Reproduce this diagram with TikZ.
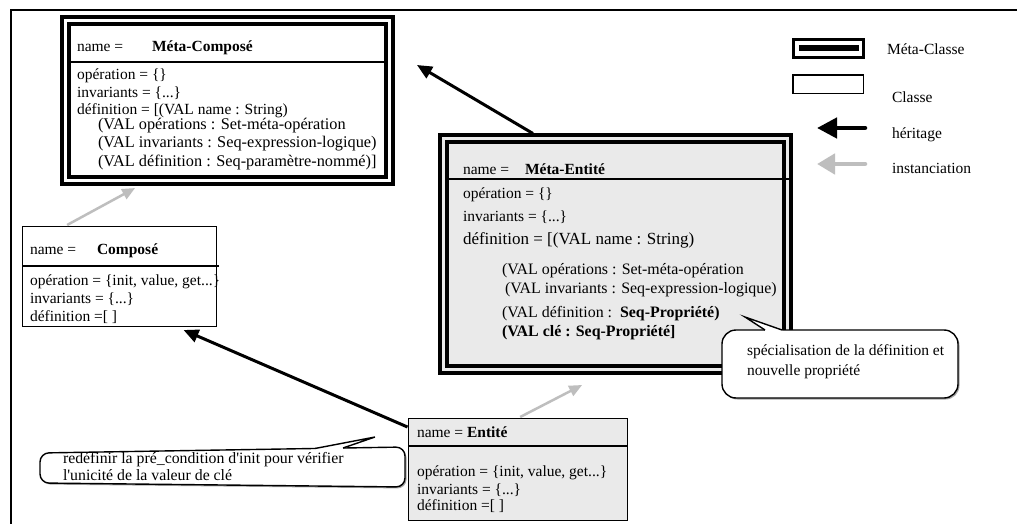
\documentclass[tikz,border=0pt]{standalone}
\usepackage{fontspec}
\setmainfont{Liberation Serif}
\usetikzlibrary{arrows.meta,calc}
\definecolor{boxgray}{RGB}{234,234,234}
\definecolor{instgray}{RGB}{190,190,190}
\tikzset{
  txt/.style={anchor=base west, inner sep=0pt, outer sep=0pt, font=\fontsize{15.5}{18}\selectfont},
  fsz/.style={font=\fontsize{#1}{18}\selectfont},
  metabox/.style={draw, line width=4pt, double distance=3pt, inner sep=0pt, outer sep=0pt},
  classbox/.style={draw, line width=1.5pt, inner sep=0pt, outer sep=0pt},
  divider/.style={line width=1.5pt},
  herit/.style={line width=3pt, -{Triangle[length=15pt,width=13pt]}},
  inst/.style={draw=instgray, line width=2.5pt, -{Triangle[length=13pt,width=11pt]}},
  bubble/.style={draw, line width=1.4pt, fill=white},
  bubbleshadow/.style={fill=black!35},
}
\begin{document}
\begin{tikzpicture}[x=1pt,y=-1pt]
\useasboundingbox (0,0) rectangle (1017,524);
\fill[white] (0,0) rectangle (1017,524);

% page frame (top and left rules)
\draw[line width=2pt] (1017,10) -- (11,10) -- (11,524);

% ---------- Méta-Composé (meta class) ----------
\node[metabox, double=white, minimum width=324pt, minimum height=160pt] (MC) at (227.5,100.5) {};
\draw[divider] ($(MC.north west)+(5.5,41.5)$) -- ($(MC.north east)+(-1.5,41.5)$);
\node[txt] (MCname) at (77,52) {name =};
\node[txt] (MCtitle) at (152,52) {\textbf{Méta-Composé}};
\node[txt] (MCl1) at (77,80) {opération = \{\}};
\node[txt] (MCl2) at (77,98) {invariants = \{...\}};
\node[txt] (MCl3) at (77,115) {définition = [(VAL name : String)};
\node[txt, fsz=16.3] (MCl4) at (98,129.5) {(VAL opérations : Set-méta-opération};
\node[txt, fsz=16.3] (MCl5) at (98,147.5) {(VAL invariants : Seq-expression-logique)};
\node[txt, fsz=16.3] (MCl6) at (98,166) {(VAL définition : Seq-paramètre-nommé)]};

% ---------- Composé (class) ----------
\node[classbox, fill=white, minimum width=194pt, minimum height=100pt] (C) at (119.5,276.5) {};
\draw[divider] ($(C.north west)+(0,39.5)$) -- ($(C.north east)+(2.5,39.5)$);
\node[txt] (Cname) at (30,254) {name =};
\node[txt] (Ctitle) at (97,254) {\textbf{Composé}};
\node[txt] (Cl1) at (30,285) {opération = \{init, value, get...\}};
\node[txt] (Cl2) at (30,303) {invariants = \{...\}};
\node[txt] (Cl3) at (30,321) {définition =[ ]};

% ---------- Méta-Entité (meta class) ----------
\node[metabox, double=boxgray, fill=boxgray, minimum width=344pt, minimum height=231pt] (ME) at (615.5,254) {};
\draw[divider] ($(ME.north west)+(5.5,40.5)$) -- ($(ME.north east)+(1.5,40.5)$);
\node[txt] (MEname) at (463,174) {name =};
\node[txt] (MEtitle) at (525,174) {\textbf{Méta-Entité}};
\node[txt] (MEl1) at (463,198) {opération = \{\}};
\node[txt] (MEl2) at (463,221) {invariants = \{...\}};
\node[txt, fsz=17] (MEl3) at (463,244) {définition = [(VAL name : String)};
\node[txt, fsz=15.9] (MEl4) at (502,274) {(VAL opérations : Set-méta-opération};
\node[txt, fsz=15.9] (MEl5) at (505,293) {(VAL invariants : Seq-expression-logique)};
\node[txt, fsz=15.9] (MEl6) at (502,317) {(VAL définition :\ \ \textbf{Seq-Propriété)}};
\node[txt, fsz=15.9] (MEl7) at (502,336) {\textbf{(VAL clé : Seq-Propriété]}};

% ---------- Entité (class) ----------
\node[classbox, fill=boxgray, minimum width=219pt, minimum height=102pt] (E) at (518,469.5) {};
\draw[divider] ($(E.north west)+(0,27.5)$) -- ($(E.north east)+(0,27.5)$);
\node[txt] (Ename) at (417,437) {name = \textbf{Entité}};
\node[txt] (El1) at (417,476) {opération = \{init, value, get...\}};
\node[txt] (El2) at (417,494) {invariants = \{...\}};
\node[txt] (El3) at (417,510) {définition =[ ]};

% ---------- inheritance / instantiation links ----------
\coordinate (MCside) at ($(MC.north east)+(27.5,44.5)$);
\draw[herit] ($(ME.north west)!0.26!(ME.north east)+(0,-5)$) -- (MCside);
\draw[inst] ($(C.north west)!0.23!(C.north east)+(0,-1.5)$) -- ($(MC.south west)!0.215!(MC.south east)+(0,7.5)$);
\draw[herit] ($(E.north west)+(-1,8.5)$) -- ($(C.south west)!0.83!(C.south east)+(0,3.5)$);
\draw[inst] ($(E.north west)!0.51!(E.north east)+(0,-1.5)$) -- ($(ME.south west)!0.403!(ME.south east)+(0,15.5)$);

% ---------- note on the definition ----------
\coordinate (specTip) at (745,317);
\fill[bubbleshadow, rounded corners=14pt] (723.5,331.5) rectangle (959.5,399.5);
\draw[bubble, rounded corners=14pt] (722,330) rectangle (958,398);
\fill[white] (765,330) -- (specTip) -- (782,330) -- (782,331.3) -- (765,331.3) -- cycle;
\draw[line width=1.4pt] (765,330) -- (specTip) -- (782,330);
\node[txt] (specL1) at (747,355) {spécialisation de la définition et};
\node[txt] (specL2) at (747,375) {nouvelle propriété};

% ---------- note on init ----------
\coordinate (redefTip) at (375,437);
\fill[bubbleshadow, rounded corners=9pt] (41.5,454.5) -- (406.5,448.5) -- (406.5,488.5) -- (41.5,484.5) -- cycle;
\draw[bubble, rounded corners=9pt] (40,453) -- (405,447) -- (405,487) -- (40,483) -- cycle;
\fill[white] (315,448.5) -- (redefTip) -- (343,448) -- (343,449.6) -- (315,450.1) -- cycle;
\draw[line width=1.4pt] (315,448.5) -- (redefTip) -- (343,448);
\node[txt, fsz=15.8] (redefL1) at (63,463) {redéfinir la pré\_condition d\textquotesingle init pour vérifier};
\node[txt, fsz=15.8] (redefL2) at (63,480) {l\textquotesingle unicité de la valeur de clé};

% ---------- legend ----------
\node[draw, line width=3pt, minimum width=70pt, minimum height=18pt, inner sep=0pt] (legMeta) at (828.5,48.5) {};
\node[fill=black, minimum width=60pt, minimum height=6pt, inner sep=0pt] (legMetaBar) at (legMeta.center) {};
\node[txt] (legMetaT) at (887,55) {Méta-Classe};
\node[classbox, minimum width=70.5pt, minimum height=18.5pt] (legClass) at (828,84.5) {};
\node[txt] (legClassT) at (892,103) {Classe};
\coordinate (legHerA) at (865,128);
\coordinate (legHerB) at (817,128);
\draw[line width=4.5pt, line cap=round, -{Triangle[length=20pt,width=20pt]}] (legHerA) -- (legHerB);
\node[txt] (legHerT) at (892,139) {héritage};
\coordinate (legInstA) at (865,164);
\coordinate (legInstB) at (817,164);
\draw[draw=instgray, line width=4.5pt, line cap=round, -{Triangle[length=18pt,width=20pt]}] (legInstA) -- (legInstB);
\node[txt] (legInstT) at (892,173) {instanciation};
\end{tikzpicture}
\end{document}
